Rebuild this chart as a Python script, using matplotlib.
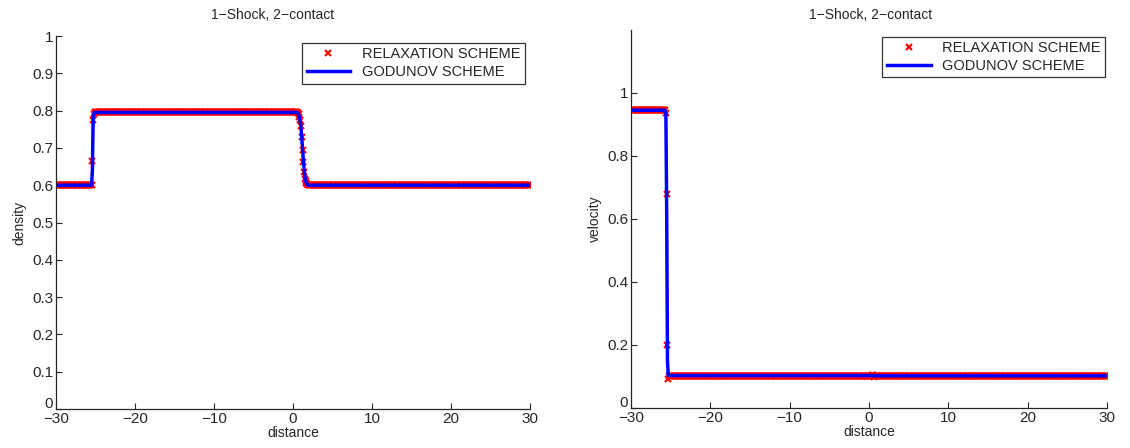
import numpy as np
import matplotlib.pyplot as plt
import matplotlib.transforms as mtransforms

plt.rcParams['font.family'] = ['Liberation Sans', 'DejaVu Sans']

# grid: 601 cells on [-30, 30]
x = np.linspace(-30, 30, 601)

# density, relaxation scheme
rho_left = 0.6
rho_shock_relax = [0.665, 0.775, 0.79]
rho_mid = 0.795
rho_contact_relax = [0.794, 0.79, 0.784, 0.775, 0.76, 0.73, 0.695, 0.663, 0.635, 0.618, 0.61, 0.606, 0.603]
rho_right = 0.601

# density, Godunov scheme
rho_shock_god = [0.64, 0.785, 0.794]
rho_contact_god = [0.794, 0.79, 0.783, 0.772, 0.755, 0.728, 0.697, 0.667, 0.642, 0.623, 0.611, 0.605, 0.602]

# velocity, relaxation scheme
u_left = 0.945
u_shock_relax = [0.935, 0.68, 0.2, 0.092]
u_mid = 0.1
u_contact_relax = [0.102, 0.106, 0.104, 0.098]
u_right = 0.1

# velocity, Godunov scheme
u_shock_god = [0.93, 0.62, 0.15, 0.103]
u_contact_god = [0.103, 0.104, 0.103, 0.102]
u_god_mid = 0.103
u_god_right = 0.102

x_ticks = [-30, -20, -10, 0, 10, 20, 30]
rho_ticks = [0, 0.1, 0.2, 0.3, 0.4, 0.5, 0.6, 0.7, 0.8, 0.9, 1]
u_ticks = [0, 0.2, 0.4, 0.6, 0.8, 1]


def density(shock, contact, right):
    return np.concatenate([np.full(46, rho_left), shock, np.full(257, rho_mid),
                           contact, np.full(282, right)])


def velocity(shock, mid, contact, right):
    return np.concatenate([np.full(44, u_left), shock, np.full(255, mid),
                           contact, np.full(294, right)])


rho_relax = density(rho_shock_relax, rho_contact_relax, rho_right)
rho_god = density(rho_shock_god, rho_contact_god, 0.6)
u_relax = velocity(u_shock_relax, u_mid, u_contact_relax, u_right)
u_god = velocity(u_shock_god, u_god_mid, u_contact_god, u_god_right)

fig = plt.figure(figsize=(11.3, 4.48), dpi=100)
ax1 = fig.add_axes([0.0496, 0.087, 0.4195, 0.8326])
ax2 = fig.add_axes([0.5584, 0.0893, 0.4212, 0.844])

txt = '#262626'
for ax, yr, yg, ylab, yt, ylim, leg_anchor, tx in [
        (ax1, rho_relax, rho_god, 'density', rho_ticks, (0, 1), (0.989, 0.981), 0.2416),
        (ax2, u_relax, u_god, 'velocity', u_ticks, (0, 1.2), (0.996, 0.981), 0.77)]:
    ax.plot(x, yr, 'x', color='red', markersize=4, mew=1.5, label='RELAXATION SCHEME')
    ax.plot(x, yg, '-', color=(0, 0, 1), lw=2.5, label='GODUNOV SCHEME')
    ax.set_xlim(-30, 30)
    ax.set_ylim(*ylim)
    ax.set_xticks(x_ticks)
    ax.set_yticks(yt)
    ax.set_yticklabels([('%g' % v) for v in yt])
    ax.spines['top'].set_visible(False)
    ax.spines['right'].set_visible(False)
    for s in ('left', 'bottom'):
        ax.spines[s].set_color(txt)
        ax.spines[s].set_linewidth(0.9)
    ax.tick_params(direction='in', length=4, width=0.8, colors=txt, labelsize=11, pad=2)
    # lift the "0" label a little so it sits above the -30 label
    lbl0 = ax.get_yticklabels()[0]
    lbl0.set_transform(lbl0.get_transform() +
                       mtransforms.ScaledTranslation(0, 5 / 72, fig.dpi_scale_trans))
    ax.set_xlabel('distance', fontsize=10, color=txt, labelpad=0)
    ax.set_ylabel(ylab, fontsize=10, color=txt, labelpad=4)
    fig.text(tx, 0.966, '1\u2212Shock, 2\u2212contact', fontsize=10, color=txt,
             ha='center', va='center')
    leg = ax.legend(loc='upper right', bbox_to_anchor=leg_anchor, numpoints=1,
                    fontsize=10.5, fancybox=False, framealpha=1, handlelength=3,
                    borderpad=0.3, labelspacing=0.25, handletextpad=0.8,
                    borderaxespad=0)
    leg.get_frame().set_edgecolor('#333333')
    leg.get_frame().set_linewidth(0.9)
    for t in leg.get_texts():
        t.set_color(txt)

fig.savefig('out.png', dpi=100)
plt.close(fig)
